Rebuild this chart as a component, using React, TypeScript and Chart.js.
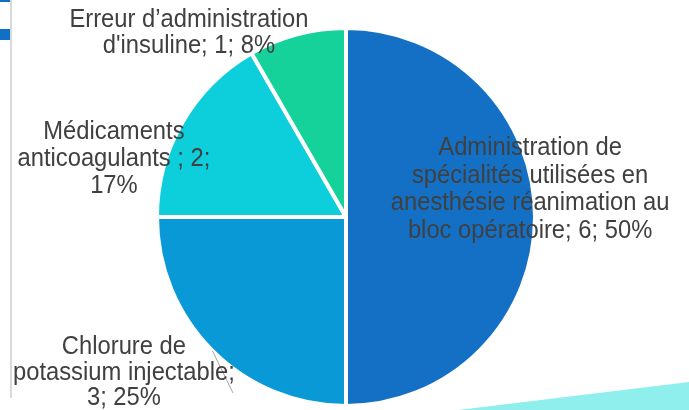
import React, { useEffect, useRef } from "react";
import { Chart, registerables } from "chart.js";

Chart.register(...registerables);

const categories = [
  "Administration de spécialités utilisées en anesthésie réanimation au bloc opératoire",
  "Chlorure de potassium injectable",
  "Médicaments anticoagulants",
  "Erreur d’administration d'insuline",
];
const values = [6, 3, 2, 1];
const colors = ["#1470C5", "#0899D6", "#0CCFDB", "#14D29A"];
const labelLines = [
  ["Administration de", "spécialités utilisées en", "anesthésie réanimation au", "bloc opératoire; 6; 50%"],
  ["Chlorure de", "potassium injectable;", "3; 25%"],
  ["Médicaments", "anticoagulants ; 2;", "17%"],
  ["Erreur d’administration", "d'insuline; 1; 8%"],
];
// label anchor (centre x, first baseline) relative to pie centre, in units of radius
const labelAnchors = [
  [0.974, -0.328],
  [-1.175, 0.725],
  [-1.228, -0.413],
  [-0.831, -1.005],
];
const lineHeights = [27.5, 25.5, 27, 25.5];

const decorPlugin = {
  id: "decor",
  beforeDraw(chart: any) {
    const ctx = chart.ctx;
    ctx.save();
    ctx.fillStyle = "#D9D9D9";
    ctx.fillRect(10, 0, 2, 398);
    ctx.fillStyle = "#1070C8";
    ctx.fillRect(0, 0, 10, 2);
    ctx.fillRect(0, 29, 10, 11);
    ctx.fillStyle = "#8FEFEC";
    ctx.beginPath();
    ctx.moveTo(458, 410);
    ctx.lineTo(689, 382);
    ctx.lineTo(689, 410);
    ctx.closePath();
    ctx.fill();
    ctx.restore();
  },
};

const labelPlugin = {
  id: "pieLabels",
  afterDatasetsDraw(chart: any) {
    const ctx = chart.ctx;
    const meta = chart.getDatasetMeta(0);
    const arc0 = meta.data[0];
    const cx = arc0.x;
    const cy = arc0.y;
    const r = arc0.outerRadius;
    ctx.save();
    // leader line for the second slice
    const a1 = meta.data[1];
    const mid = (a1.startAngle + a1.endAngle) / 2;
    ctx.strokeStyle = "#A6A6A6";
    ctx.lineWidth = 1;
    ctx.beginPath();
    ctx.moveTo(cx + Math.cos(mid) * r, cy + Math.sin(mid) * r);
    ctx.lineTo(cx - 0.598 * r, cy + 0.931 * r);
    ctx.stroke();

    ctx.fillStyle = "#404040";
    ctx.textAlign = "center";
    ctx.textBaseline = "alphabetic";
    ctx.font = "24px 'Liberation Sans', Arial, sans-serif";
    labelLines.forEach((lines, i) => {
      const x = cx + labelAnchors[i][0] * r;
      const y0 = cy + labelAnchors[i][1] * r;
      lines.forEach((line, j) => {
        const y = y0 + j * lineHeights[i];
        ctx.save();
        ctx.translate(x, y);
        ctx.scale(0.99, 1.08);
        ctx.fillText(line, 0, 0);
        ctx.restore();
      });
    });
    ctx.restore();
  },
};

export default function App() {
  const ref = useRef<HTMLCanvasElement>(null);
  useEffect(() => {
    if (!ref.current) return;
    const chart = new Chart(ref.current, {
      type: "pie",
      data: {
        labels: categories,
        datasets: [
          {
            data: values,
            backgroundColor: colors,
            borderColor: "#FFFFFF",
            borderWidth: 4,
          },
        ],
      },
      options: {
        responsive: false,
        animation: false,
        layout: { padding: { left: 155, right: 152, top: 26, bottom: 2 } },
        plugins: {
          legend: { display: false },
          tooltip: { enabled: false },
          title: { display: false },
        },
      },
      plugins: [decorPlugin, labelPlugin],
    });
    return () => chart.destroy();
  }, []);
  return (
    <div style={{ position: "absolute", left: 0, top: 0, width: 689, height: 410, background: "#fff" }}>
      <canvas ref={ref} width={689} height={410} />
    </div>
  );
}
